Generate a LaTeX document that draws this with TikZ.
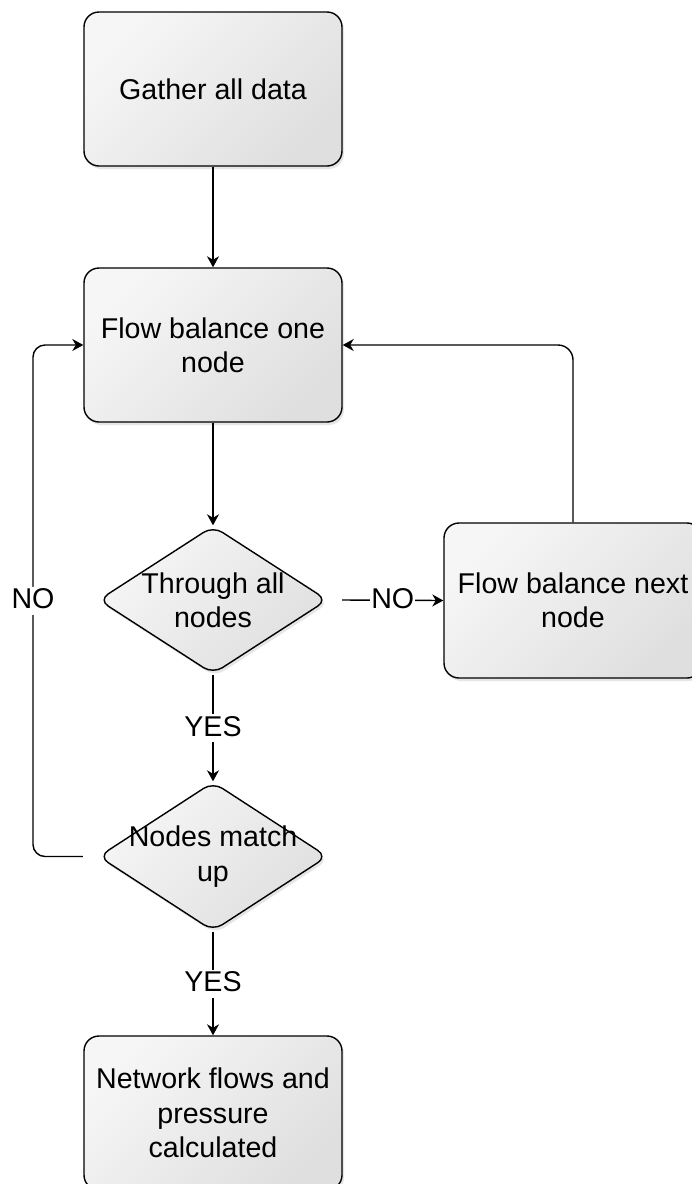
\documentclass[tikz,border=0pt]{standalone}
\usepackage{fontspec}
\setmainfont{Liberation Sans}
\usetikzlibrary{shapes.geometric,arrows.meta,shadows}

\definecolor{boxlight}{gray}{0.965}
\definecolor{boxdark}{gray}{0.875}

\tikzset{
  basefont/.style={font=\fontsize{28.6pt}{34.4pt}\selectfont},
  softshadow/.style={drop shadow={shadow xshift=2pt,shadow yshift=-3pt,opacity=0.28,fill=black!35}},
  shaded/.style={top color=boxlight,bottom color=boxdark,shading angle=45},
  stepbox/.style={draw=black,line width=1.4pt,rounded corners=15pt,shaded,softshadow,
    minimum width=258pt,minimum height=154pt,inner sep=0pt,basefont,align=center},
  decision/.style={diamond,draw=black,line width=1.4pt,rounded corners=11pt,shaded,softshadow,
    minimum width=229pt,minimum height=148pt,inner sep=0pt},
  txt/.style={basefont,align=center,inner sep=0pt},
  flow/.style={draw=black,line width=1.4pt,-{Stealth[length=11pt,width=12pt,inset=3.5pt]}},
  lbl/.style={basefont,fill=white,inner xsep=1pt,inner ysep=0pt,text height=22pt,text depth=6pt},
}

\begin{document}
\begin{tikzpicture}[x=1pt,y=-1pt]
  \path[fill=white] (0,0) rectangle (692,1184);
  \useasboundingbox (0,0) rectangle (692,1184);

  % process boxes
  \node[stepbox] (gather)  at (213,89)    {Gather all data};
  \node[stepbox] (balone)  at (213,345)   {Flow balance one\\node};
  \node[stepbox,minimum height=155pt] (balnext) at (573,600.5) {Flow balance next\\node};
  \node[stepbox] (result)  at (213,1113)  {Network flows and\\pressure\\calculated};

  % decisions
  \node[decision] (allnodes) at (213,600) {};
  \node[txt] (allnodestxt) at (allnodes) {Through all\\nodes};
  \node[decision,minimum height=149pt] (match) at (213,856.5) {};
  \node[txt] (matchtxt) at (match) {Nodes match\\up};

  % rail for the outer loop
  \coordinate (rail) at (33,0);

  % connectors
  \draw[flow] (gather) -- (balone);
  \draw[flow] (balone) -- (allnodes);
  \draw[flow] ([xshift=14pt]allnodes.east) -- node[lbl] {NO} (balnext.west);
  \draw[flow,rounded corners=15pt] (balnext.north) |- (balone.east);
  \draw[flow] (allnodes.south) -- node[lbl] {YES} (match.north);
  \draw[flow,rounded corners=12pt] ([xshift=-15pt]match.west) -| (rail |- balone.west)
        node[lbl,pos=0.75] {NO} -- (balone.west);
  \draw[flow] (match.south) -- node[lbl] {YES} (result.north);
\end{tikzpicture}
\end{document}
